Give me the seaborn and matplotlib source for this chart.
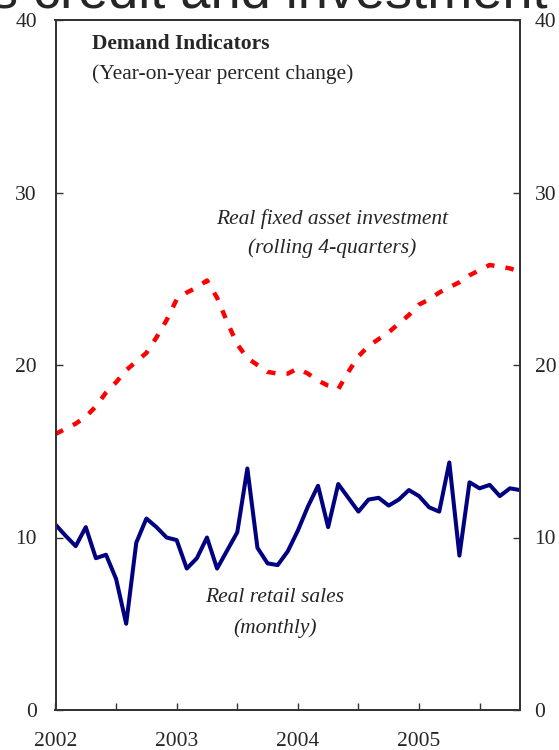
import numpy as np
import pandas as pd
import matplotlib
matplotlib.use("Agg")
import matplotlib.pyplot as plt
import seaborn as sns

# Monthly index starting Jan 2002
months = list(range(47))
retail_sales = [10.75, 10.1, 9.5, 10.6, 8.8, 9.0, 7.6, 5.0, 9.7, 11.1, 10.6, 10.0,
                9.85, 8.2, 8.8, 10.0, 8.2, 9.25, 10.3, 14.0, 9.4, 8.5, 8.4, 9.2,
                10.4, 11.8, 13.0, 10.6, 13.1, 12.3, 11.5, 12.2, 12.3, 11.85, 12.2, 12.75,
                12.4, 11.75, 11.5, 14.35, 8.95, 13.2, 12.85, 13.05, 12.4, 12.85, 12.75]
fixed_investment = [16.0, 16.3, 16.6, 17.0, 17.6, 18.4, 19.0, 19.7, 20.2, 20.7, 21.6, 22.6,
                    23.8, 24.2, 24.5, 24.9, 23.9, 22.5, 21.2, 20.4, 20.0, 19.6, 19.5, 19.5,
                    19.8, 19.5, 19.1, 18.8, 18.6, 19.6, 20.5, 21.1, 21.5, 21.9, 22.4, 22.9,
                    23.5, 23.8, 24.2, 24.5, 24.8, 25.2, 25.5, 25.8, 25.7, 25.6, 25.4]
year_labels = ["2002", "2003", "2004", "2005"]
y_ticks = [0, 10, 20, 30, 40]

x = [2002 + m / 12 for m in months]
df = pd.DataFrame({
    "date": x * 2,
    "value": retail_sales + fixed_investment,
    "series": ["Real retail sales"] * len(x) + ["Real fixed asset investment"] * len(x),
})

sns.set_style("white")
plt.rcParams["font.family"] = ["Liberation Serif", "DejaVu Serif"]

FS = 15.5
fig = plt.figure(figsize=(5.59, 7.5), dpi=100)
ax = fig.add_axes([55.5 / 559, 1 - 710 / 750, 464.5 / 559, 690 / 750])

sns.lineplot(data=df[df.series == "Real retail sales"], x="date", y="value",
             color="#000080", linewidth=2.9, ax=ax, legend=False)
sns.lineplot(data=df[df.series == "Real fixed asset investment"], x="date", y="value",
             color="#FF0000", linewidth=3.2, ax=ax, legend=False)
ax.lines[1].set_dashes((1.9, 2.5))

ax.set_xlim(2002, 2002 + 46 / 12)
ax.set_ylim(0, 40)
xt = [2002 + 0.5 * k for k in range(8)]
ax.set_xticks(xt)
ax.set_xticklabels([year_labels[k // 2] if k % 2 == 0 else "" for k in range(8)])
ax.set_yticks(y_ticks)
ax.set_yticklabels([str(v) for v in y_ticks])
ax.set_xlabel("")
ax.set_ylabel("")

ax2 = ax.twinx()
ax2.set_ylim(0, 40)
ax2.set_yticks(y_ticks)
ax2.set_yticklabels([str(v) for v in y_ticks])

for a in (ax, ax2):
    for s in a.spines.values():
        s.set_color("#333333")
        s.set_linewidth(1.3)
        s.set_visible(True)

ax.tick_params(axis="y", direction="in", left=True, right=False, labelleft=True,
               labelright=False, length=5, width=1, color="#333333",
               labelsize=FS, pad=13.5)
ax2.tick_params(axis="y", direction="in", left=False, right=True, labelleft=False,
                labelright=True, length=5, width=1, color="#333333",
                labelsize=FS, pad=10.5)
ax.tick_params(axis="x", direction="in", bottom=True, top=False, length=5, width=1,
               color="#333333", labelsize=FS, pad=15.5)

ax.text(0.0786, 0.965, "Demand Indicators", transform=ax.transAxes, fontsize=FS,
        fontweight="bold", va="center", ha="left")
ax.text(0.0786, 0.922, "(Year-on-year percent change)", transform=ax.transAxes,
        fontsize=FS, va="center", ha="left")
ax.text(0.595, 0.712, "Real fixed asset investment", transform=ax.transAxes,
        fontsize=FS, style="italic", va="center", ha="center")
ax.text(0.595, 0.670, "(rolling 4-quarters)", transform=ax.transAxes,
        fontsize=FS, style="italic", va="center", ha="center")
ax.text(0.4725, 0.1635, "Real retail sales", transform=ax.transAxes,
        fontsize=FS, style="italic", va="center", ha="center")
ax.text(0.4725, 0.1187, "(monthly)", transform=ax.transAxes,
        fontsize=FS, style="italic", va="center", ha="center")

fig.text(548 / 559, 1 - 7 / 750, "s credit and investment", fontsize=39,
         family=["Liberation Sans", "DejaVu Sans"], ha="right", va="baseline")

fig.savefig("out.png", dpi=100)
